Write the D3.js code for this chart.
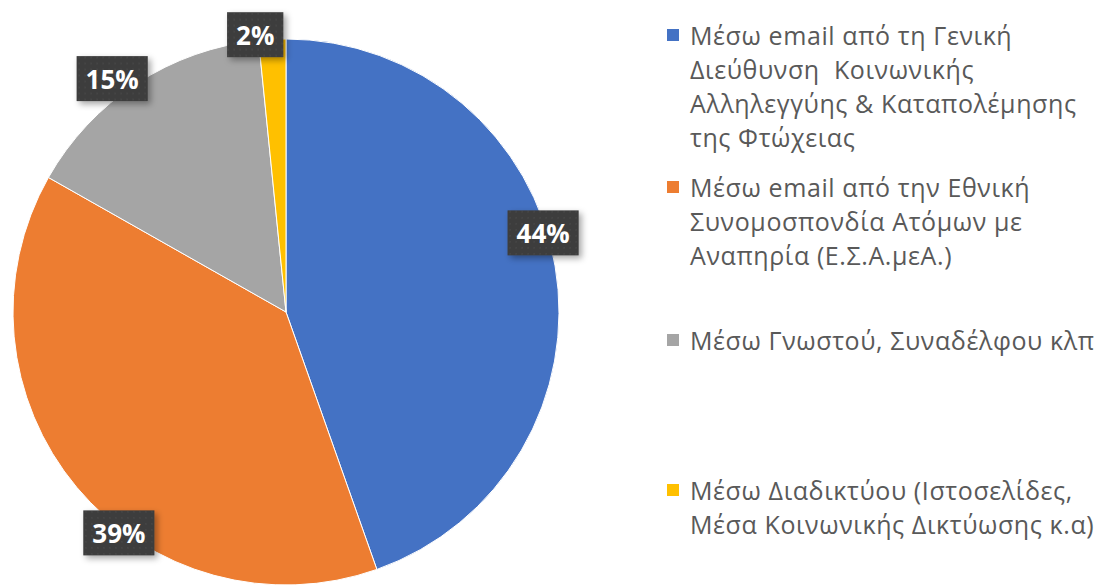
<!DOCTYPE html>
<html><head><meta charset="utf-8">
<script src="https://cdn.jsdelivr.net/npm/d3@7"></script>
<style>body{margin:0;background:#fff}svg{display:block}</style>
</head><body>
<script>
const categories = [
  ["Μέσω email από τη Γενική", "Διεύθυνση  Κοινωνικής", "Αλληλεγγύης & Καταπολέμησης", "της Φτώχειας"],
  ["Μέσω email από την Εθνική", "Συνομοσπονδία Ατόμων με", "Αναπηρία (Ε.Σ.Α.μεΑ.)"],
  ["Μέσω Γνωστού, Συναδέλφου κλπ"],
  ["Μέσω Διαδικτύου (Ιστοσελίδες,", "Μέσα Κοινωνικής Δικτύωσης κ.α)"]
];
const values = [44.6, 38.6, 15.2, 1.6];
const valueLabels = ["44%", "39%", "15%", "2%"];
const colors = ["#4472C4", "#ED7D31", "#A5A5A5", "#FFC000"];

// layout tuning for label placement (fraction along slice, radius offset)
const labelFrac = [0.454, 0.407, 0.435, -0.1];
const labelRadOff = [-4, 4, 18, 6];

const W = 1098, H = 585;
const cx = 286, cy = 312, R = 273;

const svg = d3.select("body").append("svg").attr("width", W).attr("height", H);
const defs = svg.append("defs");
const f = defs.append("filter").attr("id", "sh").attr("x", "-30%").attr("y", "-30%").attr("width", "170%").attr("height", "170%");
f.append("feDropShadow").attr("dx", 3).attr("dy", 3).attr("stdDeviation", 3).attr("flood-color", "#000").attr("flood-opacity", 0.35);
const pat = defs.append("pattern").attr("id", "dots").attr("patternUnits", "userSpaceOnUse").attr("width", 6).attr("height", 6);
pat.append("rect").attr("width", 6).attr("height", 6).attr("fill", "#3d3d3d");
pat.append("circle").attr("cx", 3).attr("cy", 3).attr("r", 0.8).attr("fill", "#4d4d4d");

const pie = d3.pie().sort(null).value(d => d);
const arcs = pie(values);
const arc = d3.arc().innerRadius(0).outerRadius(R);

const g = svg.append("g").attr("transform", `translate(${cx},${cy})`);
g.selectAll("path").data(arcs).join("path")
  .attr("d", arc).attr("fill", (d, i) => colors[i])
  .attr("stroke", "#fff").attr("stroke-width", 1);

// labels
arcs.forEach((d, i) => {
  const a = d.startAngle + (d.endAngle - d.startAngle) * labelFrac[i];
  const r = R + labelRadOff[i];
  const x = Math.sin(a) * r, y = -Math.cos(a) * r;
  const lg = g.append("g").attr("transform", `translate(${x},${y})`);
  const rect = lg.append("rect").attr("fill", "url(#dots)").attr("filter", "url(#sh)");
  const t = lg.append("text").text(valueLabels[i])
    .attr("text-anchor", "middle").attr("dominant-baseline", "central")
    .attr("font-family", "Open Sans, sans-serif").attr("font-weight", 700)
    .attr("font-size", 26).attr("fill", "#fff");
  const w = t.node().getComputedTextLength() + 18;
  const h = 45;
  rect.attr("x", -w / 2).attr("y", -h / 2).attr("width", w).attr("height", h);
});

// legend
const legendStartY = [35, 187, 340, 490];
const lineH = 34;
const leg = svg.append("g");
categories.forEach((lines, i) => {
  const y0 = legendStartY[i];
  leg.append("rect").attr("x", 667).attr("y", y0 - 6).attr("width", 12).attr("height", 12).attr("fill", colors[i]);
  lines.forEach((ln, j) => {
    leg.append("text").attr("x", 690).attr("y", y0 + j * lineH)
      .attr("dominant-baseline", "central")
      .attr("font-family", "Open Sans, sans-serif").attr("font-size", 25)
      .attr("letter-spacing", 0.6)
      .attr("fill", "#595959").attr("xml:space", "preserve").text(ln);
  });
});
</script>
</body></html>
